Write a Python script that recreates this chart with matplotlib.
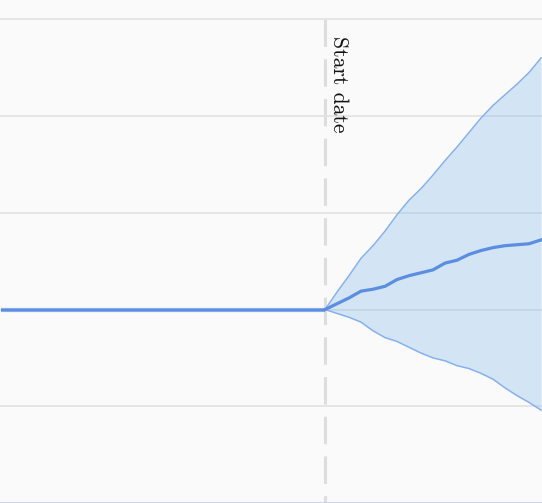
import numpy as np
import matplotlib.pyplot as plt

# time steps (historical flat part, then forecast fan from the start date)
t_hist = np.arange(0, 28)
hist_val = [100.0] * len(t_hist)

t_fc = np.arange(27, 46)
median = [100.0, 100.6, 101.2, 101.9, 102.1, 102.4, 103.1, 103.5, 103.8, 104.1,
          104.8, 105.1, 105.7, 106.1, 106.4, 106.6, 106.7, 106.8, 107.2]
upper = [100.0, 101.8, 103.5, 105.3, 106.6, 108.1, 109.8, 111.3, 112.5, 113.9,
         115.4, 116.8, 118.3, 119.8, 121.1, 122.2, 123.3, 124.5, 126.0]
lower = [100.0, 99.6, 99.2, 98.7, 97.8, 97.1, 96.7, 96.1, 95.5, 95.0,
         94.7, 94.2, 93.9, 93.4, 92.8, 91.9, 91.1, 90.4, 89.6]

start_t = 27
grid_vals = [90, 100, 110, 120, 130]

# colours
bg = '#fafafa'
main_blue = '#5b8de0'
thin_blue = '#86b1ec'
fill_blue = '#7cb5ec'

fig = plt.figure(figsize=(5.42, 5.03), dpi=100, facecolor=bg)
ax = fig.add_axes([0, 0, 1, 1])
ax.set_facecolor(bg)

ax.fill_between(t_fc, lower, upper, color=fill_blue, alpha=0.3, lw=0, zorder=2)
ax.plot(t_hist, hist_val, color=thin_blue, lw=3.0, zorder=3, solid_capstyle='butt')
ax.plot(t_fc, upper, color=thin_blue, lw=1.1, zorder=3)
ax.plot(t_fc, lower, color=thin_blue, lw=1.1, zorder=3)
ax.plot(t_hist, hist_val, color=main_blue, lw=1.6, zorder=4, solid_capstyle='butt')
ax.plot(t_fc, median, color=main_blue, lw=2.3, zorder=4)

# start date marker
ax.plot([start_t, start_t], [130, 80], color='#dddddd', lw=2.2,
        linestyle=(0, (9, 4)), zorder=1)
ax.text(start_t + 0.3, 128.3, 'Start date', rotation=-90, ha='left', va='top',
        fontsize=15.6, family=['cmr10', 'DejaVu Serif'], color='#111111')

ax.set_xlim(-1 / 12, 45 + 1 / 12)
ax.set_ylim(80, 132)
ax.set_yticks(grid_vals)
ax.set_xticks([])
ax.grid(axis='y', color='#e3e3e3', lw=1.3, zorder=0)
ax.tick_params(left=False, labelleft=False)
for s in ['top', 'right', 'left']:
    ax.spines[s].set_visible(False)
ax.spines['bottom'].set_color('#ccd6eb')
ax.spines['bottom'].set_linewidth(1.5)

fig.savefig('out.png', dpi=100, facecolor=bg)
